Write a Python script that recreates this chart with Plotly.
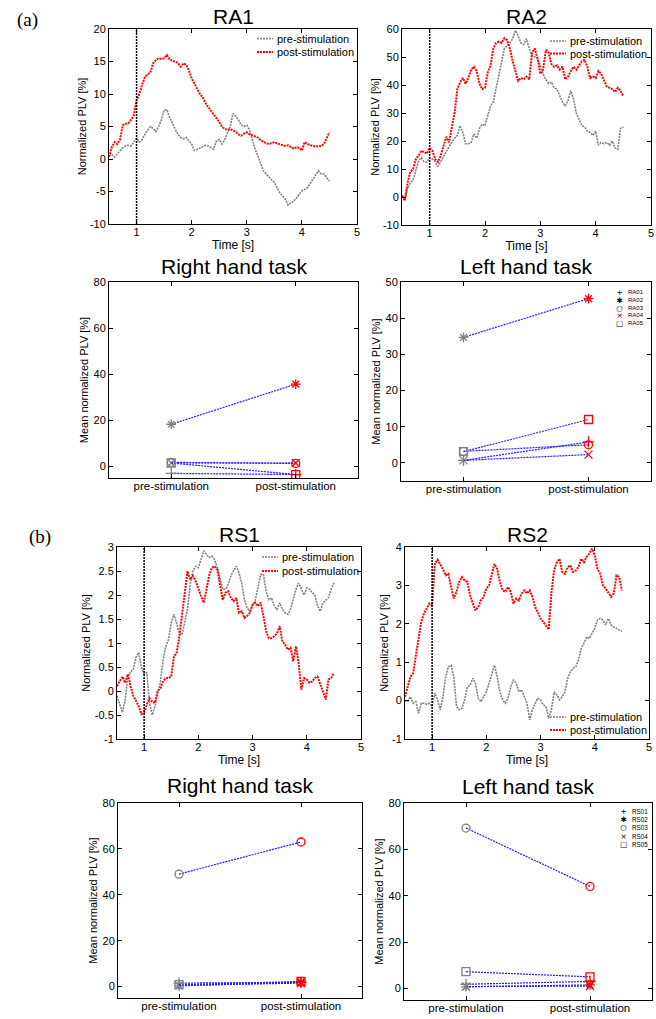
import plotly.graph_objects as go

W, H = 656, 1019
STIM_ONSET = 1.0

TIME = [0.50, 0.55, 0.60, 0.65, 0.70, 0.75, 0.80, 0.85, 0.90, 0.95,
        1.00, 1.05, 1.10, 1.15, 1.20, 1.25, 1.30, 1.35, 1.40, 1.45,
        1.50, 1.55, 1.60, 1.65, 1.70, 1.75, 1.80, 1.85, 1.90, 1.95,
        2.00, 2.05, 2.10, 2.15, 2.20, 2.25, 2.30, 2.35, 2.40, 2.45,
        2.50, 2.55, 2.60, 2.65, 2.70, 2.75, 2.80, 2.85, 2.90, 2.95,
        3.00, 3.05, 3.10, 3.15, 3.20, 3.25, 3.30, 3.35, 3.40, 3.45,
        3.50, 3.55, 3.60, 3.65, 3.70, 3.75, 3.80, 3.85, 3.90, 3.95,
        4.00, 4.05, 4.10, 4.15, 4.20, 4.25, 4.30, 4.35, 4.40, 4.45,
        4.50]

RA1_PRE = [0.5, 0.7, 0.3, 0.8, 1.3, 1.7, 2.0, 2.1, 2.0, 2.6,
           3.2, 2.6, 3.0, 3.8, 4.5, 5.0, 4.7, 4.2, 5.0, 6.0,
           7.5, 7.6, 6.4, 5.4, 4.6, 3.8, 3.3, 3.1, 3.3, 2.8,
           2.3, 1.3, 1.5, 1.7, 1.8, 2.1, 2.0, 1.7, 1.5, 2.8,
           3.0, 2.3, 3.0, 4.0, 5.0, 7.0, 6.6, 6.0, 5.2, 5.0,
           5.2, 4.5, 2.8, 1.5, 0.5, -0.8, -1.8, -2.3, -2.8, -3.2,
           -3.6, -4.4, -5.2, -5.7, -6.2, -7.1, -6.8, -6.5, -6.0, -5.5,
           -4.9, -4.7, -4.4, -3.8, -3.1, -2.4, -1.8, -2.3, -2.3, -2.9,
           -3.4]
RA1_POST = [0.3, 1.8, 2.6, 2.3, 3.0, 5.2, 5.4, 5.5, 6.0, 6.7,
            9.0, 10.0, 11.4, 12.6, 13.0, 13.3, 14.7, 15.2, 15.5, 15.4,
            15.5, 16.0, 15.3, 15.1, 15.0, 14.8, 14.2, 14.7, 14.5, 13.6,
            12.4, 11.6, 10.8, 10.0, 9.5, 8.6, 8.0, 7.4, 7.0, 6.3,
            5.7, 5.0, 4.6, 4.5, 4.6, 4.4, 4.2, 3.8, 3.6, 3.9,
            4.1, 3.8, 3.6, 3.5, 3.3, 2.9, 2.6, 2.4, 2.3, 2.5,
            2.6, 2.4, 2.3, 2.2, 2.0, 2.1, 1.8, 1.6, 1.8, 1.7,
            1.3, 2.6, 2.3, 2.1, 2.0, 1.9, 1.9, 2.0, 2.3, 3.3,
            4.1]

RA2_PRE = [0.5, -1.0, 3.0, 5.0, 6.0, 10.0, 13.0, 14.0, 12.5, 12.5,
           14.0, 13.5, 12.5, 11.0, 12.5, 14.5, 16.5, 18.0, 19.5, 21.0,
           22.0, 25.5, 23.0, 19.0, 19.0, 19.5, 22.5, 21.0, 24.5, 26.0,
           25.5, 29.5, 32.5, 34.0, 38.5, 43.5, 48.5, 53.0, 54.0, 55.0,
           56.5, 59.5, 57.5, 55.0, 54.5, 56.5, 53.0, 50.5, 50.0, 49.5,
           47.0, 44.0, 42.0, 40.5, 41.0, 39.0, 38.5, 36.0, 34.0, 32.5,
           34.5, 38.0, 35.0, 30.0, 28.0, 25.5, 25.0, 23.5, 23.0, 22.0,
           23.5, 18.5, 19.5, 19.0, 19.5, 18.5, 20.0, 17.5, 17.0, 24.5,
           25.0]
RA2_POST = [0.5, -1.3, 5.0, 9.0, 10.0, 13.5, 14.8, 16.5, 16.0, 15.5,
            17.5, 16.5, 13.5, 12.5, 14.8, 18.5, 21.5, 19.5, 24.5, 30.0,
            38.5, 41.0, 42.5, 40.5, 42.5, 45.5, 46.5, 45.0, 40.5, 38.5,
            39.0, 44.5, 47.0, 53.0, 55.0, 55.5, 55.0, 56.7, 56.0, 53.0,
            48.5, 44.5, 41.5, 42.5, 42.0, 43.0, 42.0, 51.5, 53.0, 49.5,
            44.0, 45.5, 52.5, 51.5, 47.5, 46.5, 47.0, 45.5, 46.5, 42.0,
            43.0, 45.0, 46.5, 45.5, 47.0, 48.5, 49.0, 46.5, 42.5, 43.0,
            42.5, 45.0, 44.0, 42.0, 39.5, 39.0, 38.5, 37.5, 39.0, 38.0,
            36.0]

RS1_PRE = [-0.1, -0.3, -0.45, -0.2, 0.3, 0.4, 0.45, 0.7, 0.8, 0.5,
           0.35, 0.38, -0.25, -0.5, -0.32, -0.05, 0.17, 0.65, 0.93, 1.07,
           1.42, 1.6, 1.38, 1.2, 1.17, 1.42, 1.7, 2.22, 2.5, 2.6,
           2.57, 2.74, 2.92, 2.85, 2.78, 2.81, 2.74, 2.57, 2.36, 2.12,
           2.12, 2.22, 2.4, 2.5, 2.6, 2.46, 2.25, 1.9, 1.73, 1.66,
           1.8, 1.9, 2.15, 2.43, 2.43, 2.08, 1.9, 1.94, 1.77, 1.7,
           1.84, 1.7, 1.63, 1.6, 1.7, 1.9, 2.12, 2.25, 2.12, 2.0,
           2.15, 2.12, 2.05, 2.0, 1.77, 1.66, 1.84, 1.9, 1.94, 2.12,
           2.25]
RS1_POST = [0.1, 0.2, 0.3, 0.17, 0.35, 0.1, -0.1, -0.2, -0.32, -0.48,
            -0.45, -0.28, -0.15, -0.22, -0.25, 0.0, 0.06, 0.2, 0.27, 0.27,
            0.3, 0.72, 0.8, 1.14, 1.63, 2.05, 2.5, 2.32, 2.4, 2.29,
            2.12, 1.98, 1.84, 2.12, 2.4, 2.57, 2.6, 2.53, 2.22, 1.9,
            2.05, 2.08, 1.94, 1.87, 1.94, 1.63, 1.66, 1.52, 1.56, 1.63,
            1.8, 1.84, 1.77, 1.84, 1.56, 1.25, 1.1, 1.1, 1.14, 1.2,
            1.35, 1.03, 0.97, 0.86, 0.9, 0.62, 0.93, 0.58, 0.03, 0.27,
            0.24, 0.17, 0.2, 0.27, 0.3, 0.13, 0.0, -0.18, 0.24, 0.27,
            0.38]

RS2_PRE = [0.0, -0.03, 0.1, -0.07, -0.03, -0.33, -0.07, -0.07, -0.1, -0.07,
           -0.15, 0.2, 0.02, -0.24, 0.1, 0.62, 0.88, 0.92, 0.62, -0.15,
           -0.24, -0.2, 0.02, 0.36, 0.4, 0.58, 0.45, 0.06, -0.03, 0.1,
           0.23, 0.45, 0.71, 0.92, 0.62, 0.23, 0.02, -0.07, 0.06, 0.36,
           0.54, 0.45, 0.23, 0.28, 0.1, -0.07, -0.5, -0.24, -0.07, 0.06,
           0.02, -0.11, -0.15, -0.46, -0.24, 0.23, 0.15, 0.02, 0.1, 0.23,
           0.58, 0.75, 0.84, 0.88, 1.06, 1.36, 1.49, 1.66, 1.62, 1.75,
           1.88, 2.1, 2.14, 2.1, 1.97, 2.14, 1.97, 1.92, 1.88, 1.85,
           1.8]
RS2_POST = [0.1, 0.4, 0.62, 0.71, 1.23, 1.62, 2.05, 2.27, 2.4, 2.53,
            2.48, 3.56, 3.67, 3.56, 3.43, 3.26, 3.3, 2.96, 2.66, 2.83,
            3.09, 3.22, 3.13, 3.09, 2.75, 2.53, 2.35, 2.44, 2.61, 2.7,
            2.92, 3.0, 3.3, 3.56, 3.43, 3.09, 2.87, 2.83, 2.96, 2.83,
            2.53, 2.66, 2.61, 2.79, 2.87, 2.79, 2.87, 2.7, 2.44, 2.27,
            2.14, 2.05, 1.95, 1.85, 2.8, 3.4, 3.6, 3.69, 3.35, 3.3,
            3.48, 3.52, 3.35, 3.39, 3.48, 3.69, 3.6, 3.74, 3.83, 3.96,
            3.78, 3.43, 3.3, 3.0, 2.92, 2.79, 2.7, 2.79, 3.26, 3.22,
            2.87]

CONDITIONS = ["pre-stimulation", "post-stimulation"]
SERIES_NAMES = ["pre-stimulation", "post-stimulation"]
RA_SUBJECTS = ["RA01", "RA02", "RA03", "RA04", "RA05"]
RS_SUBJECTS = ["RS01", "RS02", "RS03", "RS04", "RS05"]
SYMBOLS = ["cross-thin-open", "asterisk-open", "circle-open", "x-thin-open", "square-open"]
LEGEND_GLYPHS = ["+", "\u2731", "\u25cb", "\u00d7", "\u25a1"]

RA_RIGHT_PRE = [-3.0, 18.3, 1.8, 1.5, 1.5]
RA_RIGHT_POST = [-3.5, 35.7, 1.3, 1.5, -3.5]
RA_LEFT_PRE = [0.7, 34.7, 3.2, 0.7, 3.1]
RA_LEFT_POST = [5.8, 45.4, 5.0, 2.3, 12.0]
RS_RIGHT_PRE = [1.5, 0.3, 49.0, 0.5, 0.8]
RS_RIGHT_POST = [1.8, 2.0, 63.0, 1.5, 2.2]
RS_LEFT_PRE = [1.8, 0.7, 69.2, 0.8, 7.2]
RS_LEFT_POST = [3.0, 1.5, 44.0, 1.0, 5.0]

GRAY = "rgb(128,128,128)"
RED = "rgb(255,0,0)"
BLUE = "rgb(30,30,255)"
FONT = "Liberation Sans, Arial, sans-serif"
PRE_LINE = dict(color=GRAY, width=1.6, dash="2px,1px")
POST_LINE = dict(color=RED, width=2, dash="2px,1px")


def px(x):
    return x / W


def py(y):
    return 1 - y / H


# panel boxes in pixels: left, right, top, bottom
BOXES = {
    1: (109, 357, 29, 224),
    2: (402, 651, 29, 225),
    3: (109, 358, 282, 478),
    4: (401, 651, 282, 481),
    5: (117, 361, 547, 739),
    6: (405, 649, 547, 739),
    7: (118, 362, 803, 998),
    8: (404, 652, 803, 1000),
}

fig = go.Figure()
layout = dict(
    width=W, height=H, margin=dict(l=0, r=0, t=0, b=0, autoexpand=False),
    paper_bgcolor="white", plot_bgcolor="white",
    font=dict(family=FONT, color="black", size=11),
    showlegend=False,
)
annotations = []
shapes = []


def axis_names(i):
    return ("x" if i == 1 else f"x{i}"), ("y" if i == 1 else f"y{i}")


def base_axis(**kw):
    d = dict(showline=True, linecolor="black", linewidth=1, mirror="ticks",
             ticks="inside", ticklen=4, tickcolor="black", tickwidth=1,
             showgrid=False, zeroline=False,
             tickfont=dict(size=11, color="black", family=FONT))
    d.update(kw)
    return d


def set_axes(i, xkw, ykw):
    l, r, t, b = BOXES[i]
    xa, ya = axis_names(i)
    layout["xaxis" if i == 1 else f"xaxis{i}"] = base_axis(
        domain=[px(l), px(r)], anchor=ya, **xkw)
    layout["yaxis" if i == 1 else f"yaxis{i}"] = base_axis(
        domain=[py(b), py(t)], anchor=xa, **ykw)


def add_title(i, text, dy):
    l, r, t, b = BOXES[i]
    annotations.append(dict(text=text, x=px((l + r) / 2), y=py(t - dy),
                            xref="paper", yref="paper", showarrow=False,
                            xanchor="center", yanchor="middle",
                            font=dict(size=21, family=FONT, color="black")))


def add_legend(sample_x0, text_x, y0, step):
    for k, (name, style) in enumerate(zip(SERIES_NAMES, [PRE_LINE, POST_LINE])):
        yy = y0 + k * step
        shapes.append(dict(type="line", xref="paper", yref="paper",
                           x0=px(sample_x0), x1=px(text_x - 2), y0=py(yy), y1=py(yy),
                           line=style))
        annotations.append(dict(text=name, x=px(text_x), y=py(yy), xref="paper", yref="paper",
                                showarrow=False, xanchor="left", yanchor="middle",
                                font=dict(size=11, family=FONT, color="black")))


def add_marker_legend(subjects, gx, gy, base_font):
    glyphs = "<br>".join(f"<span style='font-size:7.5px'>{g}</span>" for g in LEGEND_GLYPHS)
    labels = "<br>".join(subjects)
    annotations.append(dict(text=glyphs, x=px(gx), y=py(gy), xref="paper", yref="paper",
                            showarrow=False, xanchor="center", yanchor="middle", align="center",
                            font=dict(size=base_font, family="DejaVu Sans", color="black")))
    annotations.append(dict(text=labels, x=px(gx + 7), y=py(gy), xref="paper", yref="paper",
                            showarrow=False, xanchor="left", yanchor="middle", align="left",
                            font=dict(size=base_font, family=FONT, color="black")))


def time_panel(i, pre, post, yticks, title, legend_spec, title_dy):
    xa, ya = axis_names(i)
    fig.add_trace(go.Scatter(x=TIME, y=pre, mode="lines", name=SERIES_NAMES[0],
                             line=PRE_LINE, xaxis=xa, yaxis=ya))
    fig.add_trace(go.Scatter(x=TIME, y=post, mode="lines", name=SERIES_NAMES[1],
                             line=POST_LINE, xaxis=xa, yaxis=ya))
    set_axes(i,
             dict(range=[0.5, 5], tickvals=[1, 2, 3, 4, 5], ticklabelstandoff=-2,
                  title=dict(text="Time [s]", font=dict(size=12, family=FONT), standoff=0)),
             dict(range=[yticks[0], yticks[-1]], tickvals=yticks,
                  ticktext=[f"{v:g}" for v in yticks],
                  title=dict(text="Normalized PLV [%]", font=dict(size=11, family=FONT), standoff=1)))
    shapes.append(dict(type="line", xref=xa, yref=f"{ya} domain",
                       x0=STIM_ONSET, x1=STIM_ONSET, y0=0, y1=1,
                       line=dict(color="black", width=1.5, dash="2px,1px")))
    add_legend(*legend_spec)
    add_title(i, title, title_dy)


def mean_panel(i, pre, post, subjects, yticks, yrange, title, title_dy):
    xa, ya = axis_names(i)
    for k in range(len(subjects)):
        fig.add_trace(go.Scatter(
            x=CONDITIONS, y=[pre[k], post[k]], mode="lines+markers", name=subjects[k],
            line=dict(color=BLUE, width=1.2, dash="2px,1px"),
            marker=dict(symbol=SYMBOLS[k], size=8, color=[GRAY, RED],
                        line=dict(width=1.3, color=[GRAY, RED])),
            xaxis=xa, yaxis=ya))
    set_axes(i,
             dict(type="category", range=[-0.5, 1.5], ticklabelstandoff=-3,
                  tickfont=dict(size=11.5, family=FONT, color="black")),
             dict(range=yrange, tickvals=yticks, ticktext=[f"{v:g}" for v in yticks],
                  title=dict(text="Mean normalized PLV [%]", font=dict(size=11, family=FONT), standoff=2)))
    add_title(i, title, title_dy)


time_panel(1, RA1_PRE, RA1_POST, [-10, -5, 0, 5, 10, 15, 20], "RA1", (257, 275, 38.5, 13.5), 13)
time_panel(2, RA2_PRE, RA2_POST, [-10, 0, 10, 20, 30, 40, 50, 60], "RA2", (550, 568, 41, 12.5), 13)
mean_panel(3, RA_RIGHT_PRE, RA_RIGHT_POST, RA_SUBJECTS, [0, 20, 40, 60, 80], [-5, 80],
           "Right hand task", 16)
mean_panel(4, RA_LEFT_PRE, RA_LEFT_POST, RA_SUBJECTS, [0, 10, 20, 30, 40, 50], [-5, 50],
           "Left hand task", 15)
add_marker_legend(RA_SUBJECTS, 619, 307.5, 6)
time_panel(5, RS1_PRE, RS1_POST, [-1, -0.5, 0, 0.5, 1, 1.5, 2, 2.5, 3], "RS1", (262, 280, 557, 14), 13)
time_panel(6, RS2_PRE, RS2_POST, [-1, 0, 1, 2, 3, 4], "RS2", (550, 568, 717, 13), 13)
mean_panel(7, RS_RIGHT_PRE, RS_RIGHT_POST, RS_SUBJECTS, [0, 20, 40, 60, 80], [-5, 80],
           "Right hand task", 18)
mean_panel(8, RS_LEFT_PRE, RS_LEFT_POST, RS_SUBJECTS, [0, 20, 40, 60, 80], [-5, 80],
           "Left hand task", 17)
add_marker_legend(RS_SUBJECTS, 623, 827.5, 6.3)

annotations.append(dict(text="(a)", x=px(27), y=py(20), xref="paper", yref="paper", showarrow=False,
                        xanchor="center", yanchor="middle",
                        font=dict(size=19, family="Liberation Serif, Times New Roman, serif", color="black")))
annotations.append(dict(text="(b)", x=px(40), y=py(537), xref="paper", yref="paper", showarrow=False,
                        xanchor="center", yanchor="middle",
                        font=dict(size=19, family="Liberation Serif, Times New Roman, serif", color="black")))

layout["annotations"] = annotations
layout["shapes"] = shapes
fig.update_layout(**layout)
fig.write_html("out.html", config={"displayModeBar": False},
               post_script="document.body.style.margin='0px';document.body.style.overflow='hidden';")
